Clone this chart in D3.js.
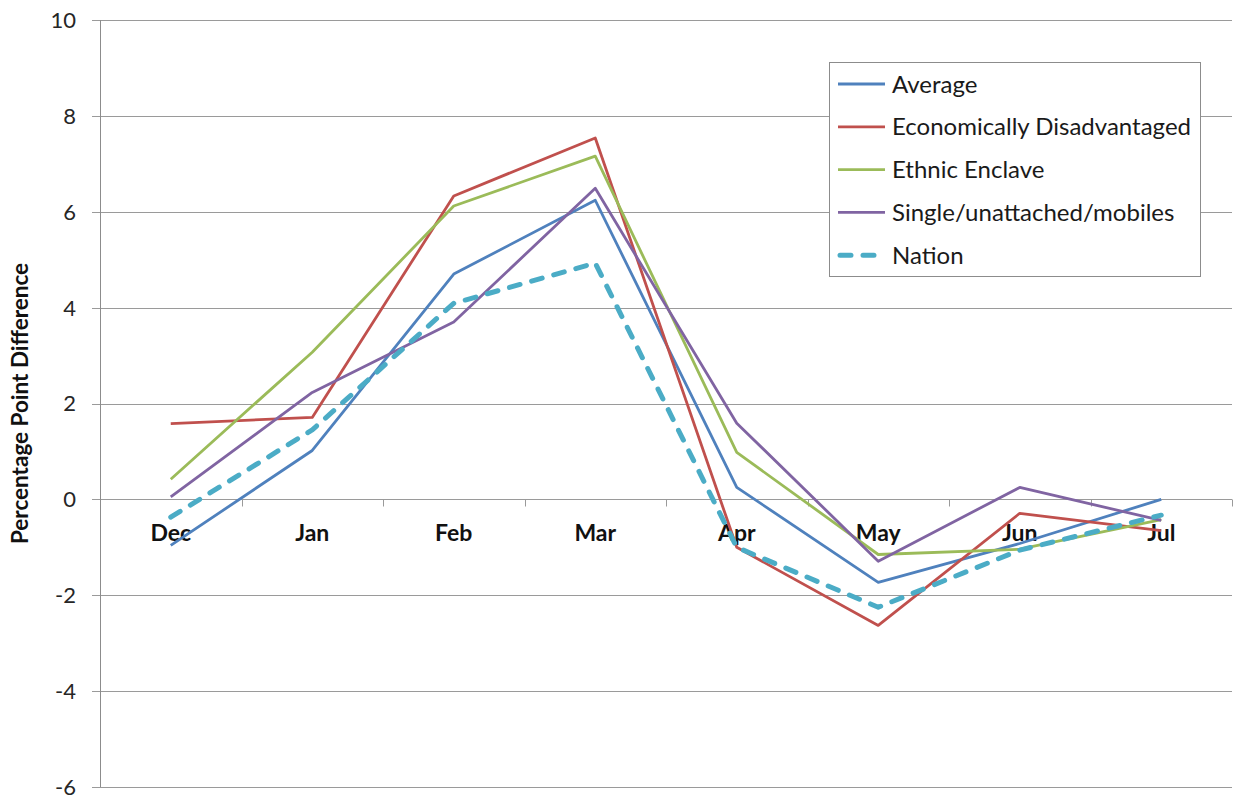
<!DOCTYPE html>
<html>
<head>
<meta charset="utf-8">
<script src="https://cdn.jsdelivr.net/npm/d3@7"></script>
<style>
  html, body { margin: 0; padding: 0; background: #fff; }
  svg { display: block; font-family: Lato, "Open Sans", sans-serif; }
</style>
</head>
<body>
<svg id="chart" width="1233" height="804"></svg>
<script>
// Months shown along the category axis
const months = ["Dec", "Jan", "Feb", "Mar", "Apr", "May", "Jun", "Jul"];

// Percentage point difference per group
const average        = [-0.96, 1.02, 4.70, 6.24, 0.25, -1.73, -0.92, 0.00];
const econDisadv     = [1.58, 1.71, 6.33, 7.54, -1.00, -2.63, -0.29, -0.65];
const ethnicEnclave  = [0.42, 3.07, 6.12, 7.16, 0.98, -1.15, -1.04, -0.42];
const singleMobiles  = [0.05, 2.23, 3.70, 6.49, 1.59, -1.29, 0.25, -0.44];
const nation         = [-0.37, 1.45, 4.09, 4.93, -1.00, -2.25, -1.06, -0.33];

const seriesNames = ["Average", "Economically Disadvantaged", "Ethnic Enclave",
                     "Single/unattached/mobiles", "Nation"];

// Value axis ticks
const yTicks = [-6, -4, -2, 0, 2, 4, 6, 8, 10];

const series = [
  { name: seriesNames[0], values: average,       color: "#4F81BD", dashed: false },
  { name: seriesNames[1], values: econDisadv,    color: "#C0504D", dashed: false },
  { name: seriesNames[2], values: ethnicEnclave, color: "#9BBB59", dashed: false },
  { name: seriesNames[3], values: singleMobiles, color: "#8064A2", dashed: false },
  { name: seriesNames[4], values: nation,        color: "#4BACC6", dashed: true }
];

const svg = d3.select("#chart");
const plot = { left: 100, right: 1232, top: 20, bottom: 787 };

const x = d3.scaleBand().domain(months).range([plot.left, plot.right]);
const y = d3.scaleLinear().domain([-6, 10]).range([plot.bottom, plot.top]);
const cx = m => x(m) + x.bandwidth() / 2;

// Horizontal gridlines
svg.append("g")
  .selectAll("line")
  .data(yTicks)
  .join("line")
  .attr("x1", plot.left - 8)
  .attr("x2", plot.right)
  .attr("y1", d => Math.round(y(d)) + 0.5)
  .attr("y2", d => Math.round(y(d)) + 0.5)
  .attr("stroke", "#9a9a9a")
  .attr("stroke-width", 1);

// Value axis line
svg.append("line")
  .attr("x1", plot.left + 0.5).attr("x2", plot.left + 0.5)
  .attr("y1", plot.top).attr("y2", plot.bottom)
  .attr("stroke", "#8c8c8c").attr("stroke-width", 1);

// Value axis labels
svg.append("g")
  .selectAll("text")
  .data(yTicks)
  .join("text")
  .attr("x", 76)
  .attr("y", d => y(d))
  .attr("dy", "0.36em")
  .attr("text-anchor", "end")
  .attr("font-size", 22)
  .attr("fill", "#262626")
  .text(d => d);

// Category tick marks along the zero line
const y0 = Math.round(y(0)) + 0.5;
const boundaries = months.map(m => x(m)).concat([plot.right]).slice(1);
svg.append("g")
  .selectAll("line")
  .data(boundaries)
  .join("line")
  .attr("x1", d => Math.round(d) + 0.5)
  .attr("x2", d => Math.round(d) + 0.5)
  .attr("y1", y0)
  .attr("y2", y0 + 7)
  .attr("stroke", "#9a9a9a");

// Category labels
svg.append("g")
  .selectAll("text")
  .data(months)
  .join("text")
  .attr("x", d => cx(d))
  .attr("y", y(0) + 33)
  .attr("dy", "0.36em")
  .attr("text-anchor", "middle")
  .attr("font-size", 23)
  .attr("font-weight", "bold")
  .attr("fill", "#111")
  .text(d => d);

// Axis title
svg.append("text")
  .attr("transform", `translate(28, ${(plot.top + plot.bottom) / 2}) rotate(-90)`)
  .attr("text-anchor", "middle")
  .attr("font-size", 22.5)
  .attr("font-weight", "bold")
  .attr("fill", "#111")
  .text("Percentage Point Difference");

// Series lines
const line = d3.line()
  .x((d, i) => cx(months[i]))
  .y(d => y(d));

svg.append("g")
  .selectAll("path")
  .data(series)
  .join("path")
  .attr("d", s => line(s.values))
  .attr("fill", "none")
  .attr("stroke", s => s.color)
  .attr("stroke-width", s => s.dashed ? 5 : 2.8)
  .attr("stroke-dasharray", s => s.dashed ? "11 12" : null)
  .attr("stroke-linecap", s => s.dashed ? "round" : "butt")
  .attr("stroke-linejoin", "round");

// Legend
const legend = svg.append("g");
legend.append("rect")
  .attr("x", 829.5).attr("y", 62.5)
  .attr("width", 371).attr("height", 214)
  .attr("fill", "#fff")
  .attr("stroke", "#8c8c8c");

const entry = legend.selectAll("g.entry")
  .data(series)
  .join("g")
  .attr("class", "entry")
  .attr("transform", (d, i) => `translate(0, ${84 + i * 42.8})`);

entry.append("line")
  .attr("x1", s => s.dashed ? 840 : 838)
  .attr("x2", s => s.dashed ? 886 : 885)
  .attr("y1", 0).attr("y2", 0)
  .attr("stroke", s => s.color)
  .attr("stroke-width", s => s.dashed ? 5 : 2.8)
  .attr("stroke-dasharray", s => s.dashed ? "11 12" : null)
  .attr("stroke-linecap", s => s.dashed ? "round" : "butt");

entry.append("text")
  .attr("x", 892)
  .attr("y", 0)
  .attr("dy", "0.36em")
  .attr("font-size", 24)
  .attr("fill", "#1a1a1a")
  .text(s => s.name);
</script>
</body>
</html>
